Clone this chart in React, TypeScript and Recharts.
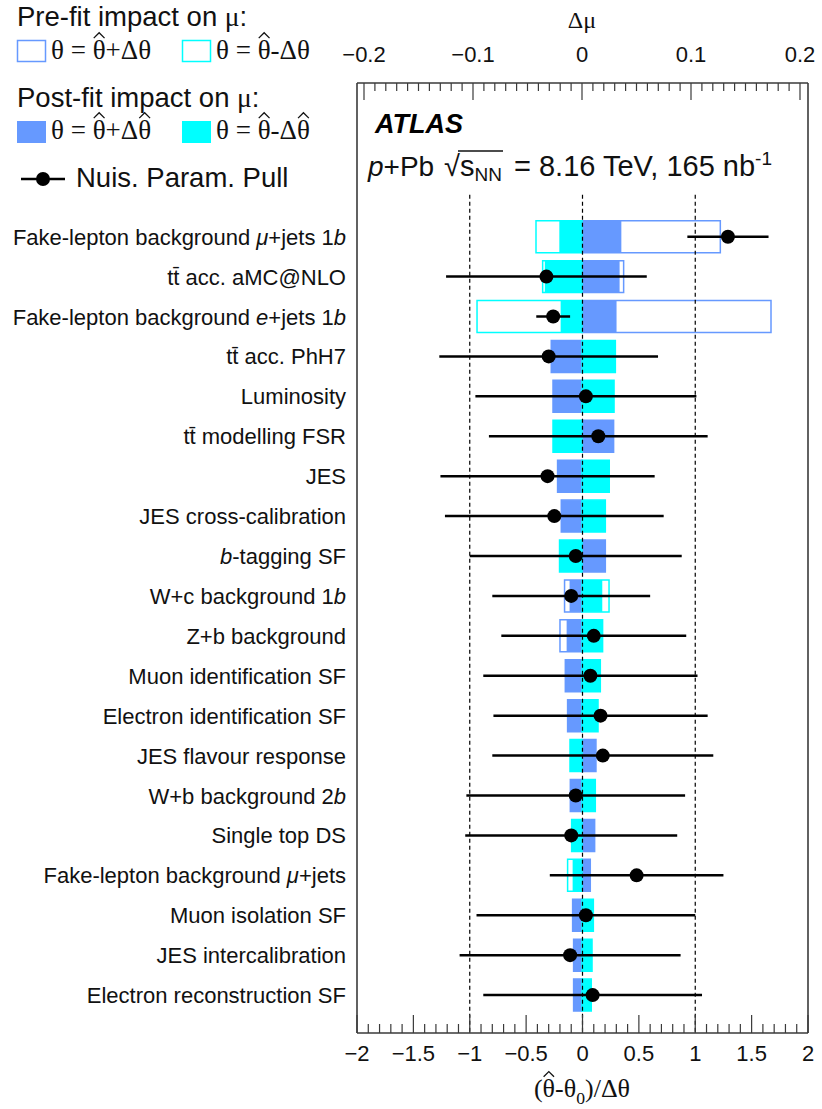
import React, { useLayoutEffect, useRef, useState } from "react";
import {
  ComposedChart,
  XAxis,
  YAxis,
  Scatter,
  ErrorBar,
  ReferenceArea,
  ReferenceLine,
} from "recharts";

// nuisance parameters, ranked by post-fit impact (_x_ marks italic text)
const params = [
  "Fake-lepton background _μ_+jets 1_b_",
  "tt\u0304 acc. aMC@NLO",
  "Fake-lepton background _e_+jets 1_b_",
  "tt\u0304 acc. PhH7",
  "Luminosity",
  "tt\u0304 modelling FSR",
  "JES",
  "JES cross-calibration",
  "_b_-tagging SF",
  "W+c background 1_b_",
  "Z+b background",
  "Muon identification SF",
  "Electron identification SF",
  "JES flavour response",
  "W+b background 2_b_",
  "Single top DS",
  "Fake-lepton background _μ_+jets",
  "Muon isolation SF",
  "JES intercalibration",
  "Electron reconstruction SF",
];

// impact on mu, theta = theta_hat + / - delta_theta
const prePlus = [
  0.1269, 0.0382, 0.1734, -0.0282, -0.0266, 0.029, -0.0224, -0.019, 0.0214, -0.016,
  -0.0202, -0.0153, -0.0132, 0.0128, -0.0107, 0.0116, 0.0076, -0.0086, -0.0077, -0.0077,
];
const preMinus = [
  -0.0422, -0.0361, -0.0963, 0.0306, 0.0294, -0.0266, 0.025, 0.0214, -0.0206, 0.0248,
  0.0189, 0.0168, 0.0147, -0.011, 0.0122, -0.0095, -0.0132, 0.0104, 0.0092, 0.0085,
];
const postPlus = [
  0.0361, 0.0345, 0.0317, -0.0282, -0.0266, 0.029, -0.0224, -0.019, 0.0214, -0.0114,
  -0.0141, -0.0153, -0.0132, 0.0128, -0.0107, 0.0116, 0.0076, -0.0086, -0.0077, -0.0077,
];
const postMinus = [
  -0.0208, -0.0341, -0.0196, 0.0306, 0.0294, -0.0266, 0.025, 0.0214, -0.0206, 0.0186,
  0.0189, 0.0168, 0.0147, -0.011, 0.0122, -0.0095, -0.0086, 0.0104, 0.0092, 0.0085,
];

// pulls (theta_hat - theta_0)/delta_theta and their post-fit errors
const pulls = [
  1.29, -0.32, -0.26, -0.3, 0.03, 0.14, -0.31, -0.25, -0.06, -0.1,
  0.1, 0.07, 0.16, 0.18, -0.06, -0.1, 0.48, 0.03, -0.11, 0.09,
];
const pullErrors = [
  0.36, 0.89, 0.15, 0.97, 0.98, 0.97, 0.95, 0.97, 0.94, 0.7,
  0.82, 0.95, 0.95, 0.98, 0.97, 0.94, 0.77, 0.97, 0.98, 0.97,
];

const pullTicks = Array.from({ length: 41 }, (_, i) => Math.round((-2 + i * 0.1) * 10) / 10);
const muTicks = Array.from({ length: 41 }, (_, i) => Math.round((-0.2 + i * 0.01) * 100) / 100);
const pullLabels = ["−2", "−1.5", "−1", "−0.5", "0", "0.5", "1", "1.5", "2"];
const muLabels = ["−0.2", "−0.1", "0", "0.1", "0.2"];

const BLUE = "#6699ff";
const CYAN = "#00ffff";
const FRAME = "#3a3a3a";
const SANS = "'Liberation Sans', Arial, Helvetica, sans-serif";
const SERIF = "'Liberation Serif', 'Times New Roman', serif";

const W = 822;
const H = 1109;
const BAR_HALF = 0.4;

const rows = params.map((_, i) => i);
const table = rows.map((i) => ({
  row: i,
  pull: pulls[i],
  err: pullErrors[i],
  impact: postPlus[i],
}));

const RowTick = (props: any) => {
  const { x, y, payload } = props;
  const parts = params[payload.value].split("_");
  return (
    <text x={x} y={y} dy={8} textAnchor="end" fontSize={22} fontFamily={SANS} fill="#111">
      {parts.map((p, k) => (
        <tspan key={k} fontStyle={k % 2 ? "italic" : "normal"}>
          {p}
        </tspan>
      ))}
    </text>
  );
};

const PullTick = (props: any) => {
  const { x, y, payload } = props;
  const v = payload.value;
  const k = Math.round(v * 2);
  const major = Math.abs(v * 2 - k) < 1e-6;
  return (
    <g>
      <line x1={x} x2={x} y1={y} y2={y - (major ? 18 : 9)} stroke={FRAME} strokeWidth={1.2} />
      {major && (
        <text x={x} y={y + 28} textAnchor="middle" fontSize={22} fontFamily={SANS} fill="#111">
          {pullLabels[k + 4]}
        </text>
      )}
    </g>
  );
};

const MuTick = (props: any) => {
  const { x, y, payload } = props;
  const v = payload.value;
  const k = Math.round(v * 10);
  const major = Math.abs(v * 10 - k) < 1e-6;
  return (
    <g>
      <line x1={x} x2={x} y1={y} y2={y + (major ? 17 : 8)} stroke={FRAME} strokeWidth={1.2} />
      {major && (
        <text x={x} y={y - 21} textAnchor="middle" fontSize={22} fontFamily={SANS} fill="#111">
          {muLabels[k + 2]}
        </text>
      )}
    </g>
  );
};

const Dot = (props: any) => <circle cx={props.cx} cy={props.cy} r={7} fill="#000" />;

const impactBox = (key: string, v: number, i: number, filled: boolean, color: string) => (
  <ReferenceArea
    key={key}
    xAxisId="mu"
    yAxisId="rows"
    x1={Math.min(0, v)}
    x2={Math.max(0, v)}
    y1={i - BAR_HALF}
    y2={i + BAR_HALF}
    fill={filled ? color : "none"}
    fillOpacity={1}
    stroke={filled ? "none" : color}
    strokeWidth={filled ? 0 : 1.5}
  />
);

type Piece = { t: string; hat?: boolean; sub?: boolean };

// serif formula text; hats are drawn over the marked glyphs after layout
function MathText({
  x,
  y,
  size,
  pieces,
  anchor = "start",
}: {
  x: number;
  y: number;
  size: number;
  pieces: Piece[];
  anchor?: "start" | "middle" | "end";
}) {
  const ref = useRef<SVGTextElement>(null);
  const [hats, setHats] = useState<number[]>([]);
  useLayoutEffect(() => {
    const el = ref.current;
    if (!el) return;
    const xs: number[] = [];
    let idx = 0;
    pieces.forEach((p) => {
      if (p.hat) {
        const box = el.getExtentOfChar(idx);
        xs.push(box.x + box.width / 2);
      }
      idx += p.t.length;
    });
    setHats(xs);
  }, []);
  const shift = size * 0.25;
  const top = y - size * 0.7 - 2;
  const hw = size * 0.2;
  const hh = size * 0.2;
  return (
    <g>
      <text ref={ref} x={x} y={y} fontSize={size} fontFamily={SERIF} textAnchor={anchor} fill="#111">
        {pieces.map((p, k) => {
          const prevSub = k > 0 && pieces[k - 1].sub;
          const dy = p.sub && !prevSub ? shift : !p.sub && prevSub ? -shift : 0;
          return (
            <tspan key={k} dy={dy || undefined} fontSize={p.sub ? size * 0.68 : undefined}>
              {p.t}
            </tspan>
          );
        })}
      </text>
      {hats.map((cx, k) => (
        <path
          key={k}
          d={`M${cx - hw},${top} L${cx},${top - hh} L${cx + hw},${top}`}
          fill="none"
          stroke="#111"
          strokeWidth={1.3}
        />
      ))}
    </g>
  );
}

function Overlay() {
  return (
    <svg width={W} height={H} style={{ position: "absolute", left: 0, top: 0, pointerEvents: "none" }}>
      {/* legend */}
      <text x={17} y={26} fontSize={27.5} fontFamily={SANS} fill="#111">
        Pre-fit impact on <tspan fontFamily={SERIF}>μ</tspan>:
      </text>
      <rect x={17.5} y={40.5} width={28} height={21} fill="#fff" stroke={BLUE} strokeWidth={1.5} />
      <MathText x={51} y={59} size={27} pieces={[{ t: "θ = " }, { t: "θ", hat: true }, { t: "+Δθ" }]} />
      <rect x={182.5} y={40.5} width={28} height={21} fill="#fff" stroke={CYAN} strokeWidth={1.5} />
      <MathText x={216} y={59} size={27} pieces={[{ t: "θ = " }, { t: "θ", hat: true }, { t: "-Δθ" }]} />

      <text x={17} y={107} fontSize={27.5} fontFamily={SANS} fill="#111">
        Post-fit impact on <tspan fontFamily={SERIF}>μ</tspan>:
      </text>
      <rect x={17} y={121} width={29} height={22} fill={BLUE} />
      <MathText
        x={51}
        y={139}
        size={27}
        pieces={[{ t: "θ = " }, { t: "θ", hat: true }, { t: "+Δ" }, { t: "θ", hat: true }]}
      />
      <rect x={182} y={121} width={29} height={22} fill={CYAN} />
      <MathText
        x={216}
        y={139}
        size={27}
        pieces={[{ t: "θ = " }, { t: "θ", hat: true }, { t: "-Δ" }, { t: "θ", hat: true }]}
      />

      <line x1={21} x2={65} y1={179} y2={179} stroke="#000" strokeWidth={2.5} />
      <circle cx={43} cy={179} r={7} fill="#000" />
      <text x={76} y={187} fontSize={27.5} fontFamily={SANS} fill="#111">
        Nuis. Param. Pull
      </text>

      {/* axis titles */}
      <text x={582} y={28} textAnchor="middle" fontSize={24} fontFamily={SERIF} fill="#111">
        Δμ
      </text>
      <MathText
        x={582}
        y={1097}
        size={26}
        anchor="middle"
        pieces={[
          { t: "(" },
          { t: "θ", hat: true },
          { t: "-θ" },
          { t: "0", sub: true },
          { t: ")/Δθ" },
        ]}
      />

      {/* experiment label */}
      <text x={375} y={133} fontSize={27} fontFamily={SANS} fontWeight="bold" fontStyle="italic" fill="#000">
        ATLAS
      </text>
      <text x={368} y={176} fontSize={28} fontFamily={SANS} fill="#111">
        <tspan fontStyle="italic">p</tspan>+Pb
      </text>
      <text x={444} y={176} fontSize={29} fontFamily={SANS} fill="#111">
        √
      </text>
      <line x1={458} x2={503} y1={151} y2={151} stroke="#111" strokeWidth={1.4} />
      <text x={460} y={176} fontSize={29} fontFamily={SANS} fill="#111">
        s<tspan dy={5} fontSize={19}>NN</tspan>
      </text>
      <text x={514} y={176} fontSize={29} fontFamily={SANS} fill="#111">
        = 8.16 TeV, 165 nb<tspan dy={-11} fontSize={19}>-1</tspan>
      </text>
    </svg>
  );
}

export default function App() {
  return (
    <div style={{ position: "absolute", left: 0, top: 0, width: W, height: H, background: "#fff" }}>
      <ComposedChart
        width={W}
        height={H}
        data={table}
        margin={{ top: 33, right: 14, bottom: 26, left: 7 }}
      >
        <XAxis
          xAxisId="pull"
          dataKey="pull"
          type="number"
          orientation="bottom"
          domain={[-2, 2]}
          ticks={pullTicks}
          interval={0}
          allowDataOverflow
          height={50}
          tickSize={0}
          tickMargin={0}
          tickLine={false}
          tick={<PullTick />}
          axisLine={{ stroke: FRAME, strokeWidth: 1.6 }}
        />
        <XAxis
          xAxisId="mu"
          dataKey="impact"
          type="number"
          orientation="top"
          domain={[-0.2, 0.2]}
          ticks={muTicks}
          interval={0}
          allowDataOverflow
          padding={{ left: 7, right: 8 }}
          height={50}
          tickSize={0}
          tickMargin={0}
          tickLine={false}
          tick={<MuTick />}
          axisLine={{ stroke: FRAME, strokeWidth: 1.6 }}
        />
        <YAxis
          yAxisId="rows"
          dataKey="row"
          type="number"
          domain={[-3.85, 19.95]}
          reversed
          ticks={rows}
          interval={0}
          allowDataOverflow
          width={350}
          tickSize={0}
          tickMargin={11}
          tickLine={false}
          tick={<RowTick />}
          axisLine={{ stroke: FRAME, strokeWidth: 1.6 }}
        />

        {/* post-fit impacts, filled */}
        {rows.map((i) => impactBox(`up${i}`, postPlus[i], i, true, BLUE))}
        {rows.map((i) => impactBox(`dn${i}`, postMinus[i], i, true, CYAN))}

        {/* pre-fit impacts, outlined */}
        {rows.map((i) => impactBox(`pup${i}`, prePlus[i], i, false, BLUE))}
        {rows.map((i) => impactBox(`pdn${i}`, preMinus[i], i, false, CYAN))}

        {[-1, 0, 1].map((v) => (
          <ReferenceLine
            key={`d${v}`}
            xAxisId="pull"
            yAxisId="rows"
            segment={[
              { x: v, y: -1.05 },
              { x: v, y: 19.95 },
            ]}
            stroke="#000"
            strokeWidth={1.2}
            strokeDasharray="4 3"
          />
        ))}
        <ReferenceLine xAxisId="pull" yAxisId="rows" x={2} stroke={FRAME} strokeWidth={1.6} />

        <Scatter
          xAxisId="pull"
          yAxisId="rows"
          dataKey="pull"
          shape={<Dot />}
          isAnimationActive={false}
        >
          <ErrorBar dataKey="err" direction="x" width={0} stroke="#000" strokeWidth={2.5} />
        </Scatter>
      </ComposedChart>
      <Overlay />
    </div>
  );
}
